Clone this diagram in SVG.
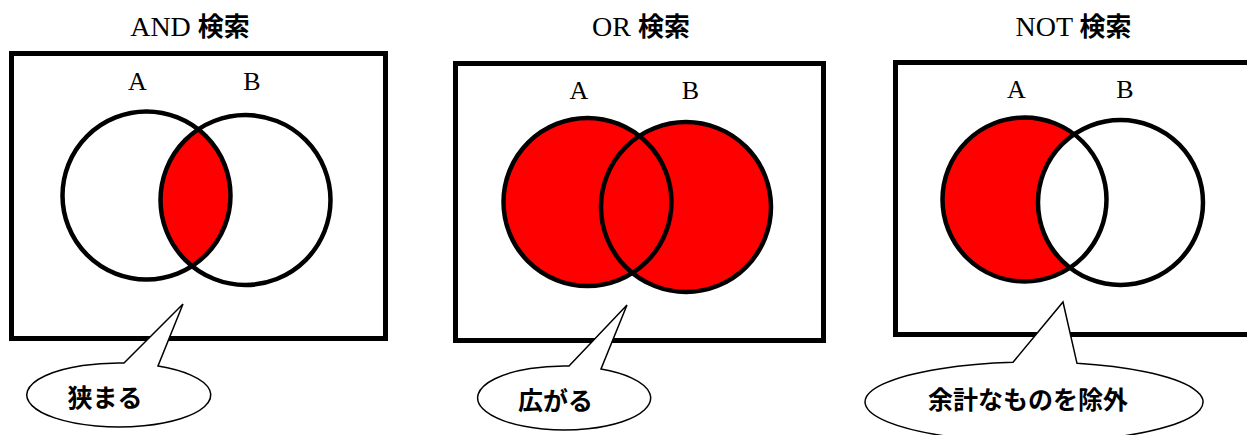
<svg xmlns="http://www.w3.org/2000/svg" width="1247" height="435" viewBox="0 0 1247 435">
<style>
.title{font-family:"Liberation Serif","Noto Serif CJK JP",serif;font-size:28px;fill:#000}
.jp{font-family:"Noto Sans CJK JP",sans-serif;font-weight:bold;font-size:26px}
.lbl{font-family:"Liberation Serif",serif;font-size:26px;fill:#000;text-anchor:middle}
.frame{fill:#fff;stroke:#000;stroke-width:5}
.ring{fill:none;stroke:#000;stroke-width:4.5}
.callout{fill:#fff;stroke:#000;stroke-width:1.5;stroke-linejoin:miter}
.ctext{font-family:"Noto Sans CJK JP",sans-serif;font-weight:bold;font-size:25px;fill:#000;text-anchor:middle}
</style>
<defs>
<clipPath id="clipA1"><circle cx="146.5" cy="195.5" r="84"/></clipPath>
</defs>
<rect width="1247" height="435" fill="#fff"/>

<g id="and-panel">
<text class="title" x="190" y="36" text-anchor="middle">AND <tspan class="jp">検索</tspan></text>
<rect class="frame" x="11.5" y="53.5" width="374" height="285"/>
<text class="lbl" x="137.5" y="90">A</text>
<text class="lbl" x="252" y="90">B</text>
<circle cx="245.5" cy="200" r="85" fill="#ff0000" clip-path="url(#clipA1)"/>
<circle class="ring" cx="146.5" cy="195.5" r="84"/>
<circle class="ring" cx="245.5" cy="200" r="85"/>
</g>

<g id="or-panel">
<text class="title" x="641" y="36" text-anchor="middle">OR <tspan class="jp">検索</tspan></text>
<rect class="frame" x="455.5" y="63.5" width="368" height="277"/>
<text class="lbl" x="579" y="99">A</text>
<text class="lbl" x="690.5" y="99">B</text>
<circle cx="587.5" cy="202" r="84" fill="#ff0000"/>
<circle cx="686" cy="207" r="85" fill="#ff0000"/>
<circle class="ring" cx="587.5" cy="202" r="84"/>
<circle class="ring" cx="686" cy="207" r="85"/>
</g>

<g id="not-panel">
<text class="title" x="1073.5" y="36" text-anchor="middle">NOT <tspan class="jp">検索</tspan></text>
<rect class="frame" x="895.5" y="62.5" width="360" height="272"/>
<text class="lbl" x="1016.5" y="98">A</text>
<text class="lbl" x="1125" y="98">B</text>
<circle cx="1024.5" cy="199.5" r="82" fill="#ff0000"/>
<circle cx="1120.5" cy="202.5" r="82.5" fill="#fff"/>
<circle class="ring" cx="1024.5" cy="199.5" r="82"/>
<circle class="ring" cx="1120.5" cy="202.5" r="82.5"/>
</g>

<g id="connectors">
<path id="callout-and" class="callout" d="M124 363 A92 32 0 1 0 158 366 L183 304 Z"/>
<path id="callout-or" class="callout" d="M569 366 A86.5 32 0 1 0 601 369 L627 305 Z"/>
<path id="callout-not" class="callout" d="M1013 362.3 A169 40 0 1 0 1077 363.3 L1063 302 Z"/>
</g>

<g id="callout-texts">
<text class="ctext" x="105" y="407">狭まる</text>
<text class="ctext" x="555.5" y="410">広がる</text>
<text class="ctext" x="1028" y="409">余計なものを除外</text>
</g>
</svg>
